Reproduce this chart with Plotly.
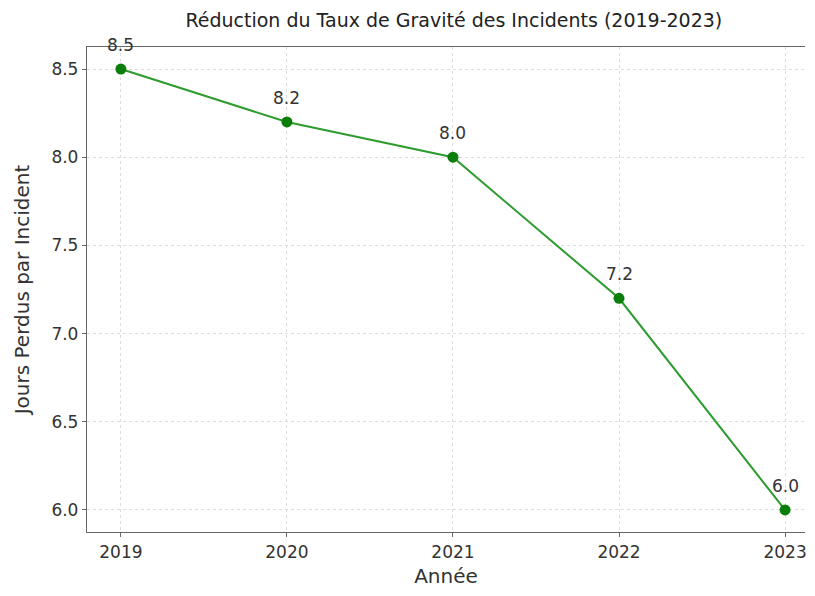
import plotly.graph_objects as go

years = [2019, 2020, 2021, 2022, 2023]
values = [8.5, 8.2, 8.0, 7.2, 6.0]
labels = ["8.5", "8.2", "8.0", "7.2", "6.0"]
y_ticks = [6.0, 6.5, 7.0, 7.5, 8.0, 8.5]
y_tick_text = ["6.0", "6.5", "7.0", "7.5", "8.0", "8.5"]

FONT = "DejaVu Sans"
fig = go.Figure()
fig.add_trace(go.Scatter(
    x=years, y=values, mode="lines+markers",
    line=dict(color="#2e9b2e", width=2),
    marker=dict(color="#0a7d0a", size=11),
    cliponaxis=False, showlegend=False,
))
for xv, yv, lab in zip(years, values, labels):
    fig.add_annotation(x=xv, y=yv, text=lab, showarrow=False, yshift=24,
                       yanchor="middle", xanchor="center",
                       font=dict(family=FONT, size=17, color="#333333"))
fig.update_layout(
    width=799, height=580,
    margin=dict(l=79, r=0, t=39, b=56),
    paper_bgcolor="white", plot_bgcolor="white",
    font=dict(family=FONT, color="#333333"),
    title=dict(text="Réduction du Taux de Gravité des Incidents (2019-2023)",
               x=0.558, xanchor="center", y=0.978, yanchor="middle",
               font=dict(family=FONT, size=19, color="#222222")),
)
fig.update_xaxes(
    range=[2018.796, 2023.12], tickvals=years, ticktext=[str(y) for y in years],
    showline=True, linecolor="#666666", linewidth=1.3, mirror=True,
    ticks="outside", ticklen=4, tickcolor="#666666",
    ticklabeloverflow="allow",
    showgrid=True, gridcolor="#dddddd", griddash="dot", gridwidth=1,
    tickfont=dict(family=FONT, size=17, color="#333333"),
    title=dict(text="Année", font=dict(family=FONT, size=20, color="#333333"), standoff=11),
    zeroline=False,
)
fig.update_yaxes(
    range=[5.875, 8.625], tickvals=y_ticks, ticktext=y_tick_text,
    showline=True, linecolor="#666666", linewidth=1.3,
    ticks="outside", ticklen=4, tickcolor="#666666",
    showgrid=True, gridcolor="#dddddd", griddash="dot", gridwidth=1,
    tickfont=dict(family=FONT, size=17, color="#333333"),
    title=dict(text="Jours Perdus par Incident", font=dict(family=FONT, size=20, color="#333333"), standoff=16),
    zeroline=False,
)
fig.write_html("out.html")
